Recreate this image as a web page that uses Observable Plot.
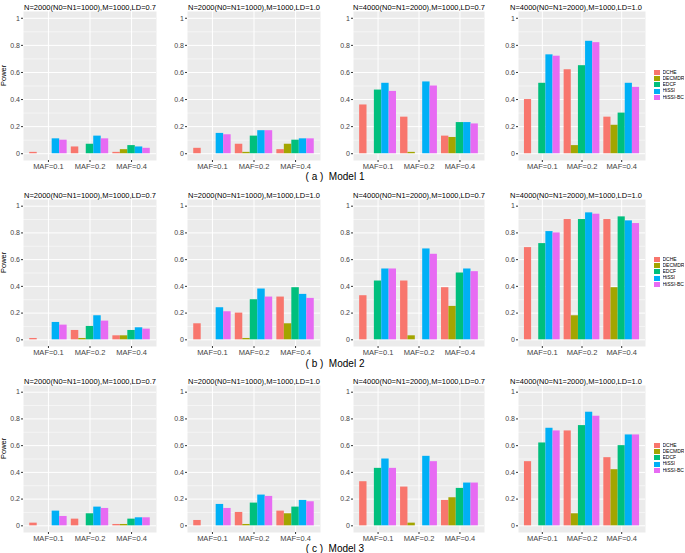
<!DOCTYPE html>
<html>
<head>
<meta charset="utf-8">
<script src="https://cdn.jsdelivr.net/npm/d3@7"></script>
<script src="https://cdn.jsdelivr.net/npm/@observablehq/plot@0.6"></script>
<style>
  html, body { margin: 0; padding: 0; background: #fff; }
  #chart { position: relative; width: 685px; height: 553px; background: #fff; font-family: "Liberation Sans", Arial, sans-serif; }
  .panel { position: absolute; }
  .caption { position: absolute; font-size: 10px; color: #000; transform: translate(-50%, -50%); white-space: pre; }
  .legend { position: absolute; }
</style>
</head>
<body>
<div id="chart"></div>
<script>
const methods = ["DCHE", "DECMDR", "EDCF", "HiSSI", "HiSSI-BC"];
const colors = ["#F8766D", "#A3A500", "#00BF7D", "#00B0F6", "#E76BF3"];
const mafLabels = ["MAF=0.1", "MAF=0.2", "MAF=0.4"];
const panelTitles = [
  "N=2000(N0=N1=1000),M=1000,LD=0.7",
  "N=2000(N0=N1=1000),M=1000,LD=1.0",
  "N=4000(N0=N1=2000),M=1000,LD=0.7",
  "N=4000(N0=N1=2000),M=1000,LD=1.0"
];
const modelCaptions = ["( a )  Model 1", "( b )  Model 2", "( c )  Model 3"];
const yTicks = [0, 0.2, 0.4, 0.6, 0.8, 1];
const yMinor = [0.1, 0.3, 0.5, 0.7, 0.9];

// power[panel][MAF][method]
const model1Power = [
  [[0.01, 0, 0, 0.11, 0.10], [0.05, 0, 0.07, 0.13, 0.11], [0.01, 0.03, 0.06, 0.05, 0.04]],
  [[0.04, 0, 0, 0.15, 0.14], [0.07, 0.01, 0.13, 0.17, 0.17], [0.03, 0.07, 0.10, 0.11, 0.11]],
  [[0.36, 0, 0.47, 0.52, 0.46], [0.27, 0.01, 0, 0.53, 0.50], [0.13, 0.12, 0.23, 0.23, 0.22]],
  [[0.40, 0, 0.52, 0.73, 0.72], [0.62, 0.06, 0.65, 0.83, 0.82], [0.27, 0.21, 0.30, 0.52, 0.49]]
];
const model2Power = [
  [[0.01, 0, 0, 0.13, 0.11], [0.07, 0.01, 0.10, 0.18, 0.14], [0.03, 0.03, 0.07, 0.09, 0.08]],
  [[0.12, 0, 0, 0.24, 0.21], [0.20, 0.01, 0.30, 0.38, 0.32], [0.32, 0.12, 0.39, 0.34, 0.31]],
  [[0.33, 0, 0.44, 0.53, 0.53], [0.44, 0.03, 0, 0.68, 0.64], [0.39, 0.25, 0.50, 0.53, 0.51]],
  [[0.69, 0, 0.72, 0.81, 0.80], [0.90, 0.18, 0.90, 0.95, 0.94], [0.90, 0.39, 0.92, 0.89, 0.87]]
];
const model3Power = [
  [[0.02, 0, 0, 0.11, 0.07], [0.05, 0, 0.09, 0.14, 0.13], [0.01, 0.01, 0.05, 0.06, 0.06]],
  [[0.04, 0, 0, 0.16, 0.13], [0.10, 0.01, 0.17, 0.23, 0.22], [0.11, 0.09, 0.14, 0.19, 0.18]],
  [[0.33, 0, 0.43, 0.50, 0.43], [0.29, 0.02, 0, 0.52, 0.48], [0.19, 0.21, 0.28, 0.32, 0.32]],
  [[0.48, 0, 0.62, 0.73, 0.71], [0.71, 0.09, 0.75, 0.85, 0.82], [0.51, 0.42, 0.60, 0.68, 0.68]]
];
const models = [model1Power, model2Power, model3Power];

// layout (frame positions)
const frameX = [23, 187, 353, 518];
const frameW = [133, 133, 131, 127];
const frameTop = [11, 199, 385];
const frameH = [149, 147, 147];
const captionY = [176, 363, 548];
const captionX = 335;
const ML = 23, MR = 2, MT = 11, MB = 20;
const dodge = 0.9 / methods.length;

const chart = document.getElementById("chart");
const font = "'Liberation Sans', Arial, sans-serif";

models.forEach((model, r) => {
  model.forEach((panel, p) => {
    const rows = [];
    panel.forEach((vals, g) => {
      vals.forEach((v, m) => {
        rows.push({maf: mafLabels[g], g: g + 1, m, method: methods[m], value: v});
      });
    });
    const marks = [
      Plot.frame({fill: "#EBEBEB", stroke: null}),
      Plot.gridY(yMinor, {stroke: "#fff", strokeOpacity: 1, strokeWidth: 0.5}),
      Plot.gridY(yTicks, {stroke: "#fff", strokeOpacity: 1, strokeWidth: 1}),
      Plot.gridX([1, 2, 3], {stroke: "#fff", strokeOpacity: 1, strokeWidth: 1}),
      Plot.rect(rows.filter(d => d.value > 0), {
        x1: d => d.g - 0.45 + d.m * dodge,
        x2: d => d.g - 0.45 + (d.m + 1) * dodge,
        y1: 0,
        y2: "value",
        fill: "method"
      }),
      Plot.axisX([1, 2, 3], {tickSize: 2, tickPadding: 1, tickFormat: i => mafLabels[i - 1], label: null, stroke: "#333", fill: "#444", fontSize: 7.5}),
      Plot.axisY(yTicks, {tickSize: 2, tickPadding: 1.5, tickFormat: d => String(d), label: null, stroke: "#333", fill: "#444"}),
      Plot.text([panelTitles[p]], {frameAnchor: "top", lineAnchor: "bottom", dy: -2, fontSize: 7.5, fill: "#000", dx: p === 3 ? -6 : 0})
    ];
    if (p === 0) {
      marks.push(Plot.text(["Power"], {frameAnchor: "left", rotate: -90, dx: -20, fontSize: 7.5, fill: "#000"}));
    }
    const svg = Plot.plot({
      width: ML + frameW[p] + MR,
      height: MT + frameH[r] + MB,
      marginLeft: ML, marginRight: MR, marginTop: MT, marginBottom: MB,
      x: {domain: [0.4, 3.6], label: null},
      y: {domain: [-0.05, 1.05], label: null},
      color: {domain: methods, range: colors},
      style: {fontSize: "7px", fontFamily: font, background: "transparent", overflow: "visible"},
      marks
    });
    svg.classList.add("panel");
    svg.style.left = (frameX[p] - ML) + "px";
    svg.style.top = (frameTop[r] - MT) + "px";
    chart.appendChild(svg);
  });

  // legend for the row
  const leg = Plot.legend({
    color: {domain: methods, range: colors},
    legend: "swatches",
    columns: 1,
    swatchWidth: 6,
    swatchHeight: 5,
    style: {fontSize: "5px", fontFamily: font, lineHeight: "5.3px", color: "#000"}
  });
  leg.classList.add("legend");
  leg.style.left = "654px";
  leg.style.top = (frameTop[r] + frameH[r] / 2 - 16) + "px";
  leg.style.margin = "0";
  chart.appendChild(leg);

  const cap = document.createElement("div");
  cap.className = "caption";
  cap.textContent = modelCaptions[r];
  cap.style.left = captionX + "px";
  cap.style.top = captionY[r] + "px";
  chart.appendChild(cap);
});
</script>
</body>
</html>
